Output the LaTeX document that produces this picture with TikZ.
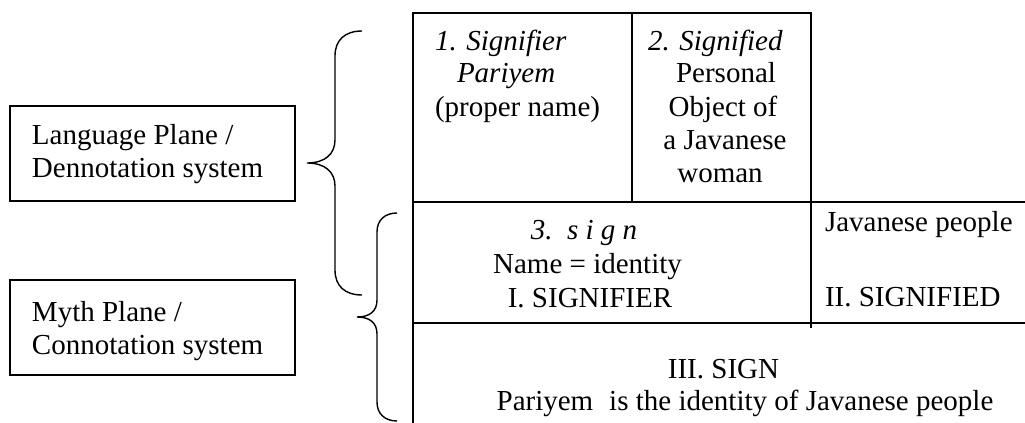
\documentclass[tikz,border=0pt]{standalone}
\usepackage{fontspec}
\setmainfont{Liberation Serif}
\begin{document}
\begin{tikzpicture}[x=0.5pt,y=-0.5pt,
  txt/.style={font=\fontsize{14.5}{17}\selectfont, inner sep=0pt, outer sep=0pt},
  planebox/.style={draw, line width=0.9pt, minimum width=142.5pt, minimum height=47.5pt, inner sep=0pt},
  rule/.style={line width=0.85pt},
  bracket/.style={line width=0.7pt}]
\useasboundingbox (0,0) rectangle (1025,423);

% left boxes
\node[planebox] (langbox) at (152.5,153.5) {};
\node[planebox] (mythbox) at (152.5,327.5) {};
\node[txt, anchor=base west] (lang1) at (32,144) {Language Plane /};
\node[txt, anchor=base west] (lang2) at (32,177) {Dennotation system};
\node[txt, anchor=base west] (myth1) at (32,321) {Myth Plane /};
\node[txt, anchor=base west] (myth2) at (32,354) {Connotation system};

% braces
\draw[bracket] (362,31) .. controls (345,31) and (335,40) .. (335,56) -- (335,140)
  .. controls (335,154) and (325,163) .. (307,163)
  .. controls (325,163) and (335,172) .. (335,186) -- (335,270)
  .. controls (335,286) and (345,295) .. (362,295);
\draw[bracket] (397,213) .. controls (385,213) and (377,220) .. (377,232) -- (377,300)
  .. controls (377,311) and (370,317) .. (357,317)
  .. controls (370,317) and (377,323) .. (377,334) -- (377,402)
  .. controls (377,414) and (385,421) .. (397,421);

% table grid
\coordinate (tl) at (413,13);
\coordinate (tm) at (632,13);
\coordinate (tr) at (811,13);
\draw[rule] (413,423) -- (tl) -- (tr) -- (811,328);
\draw[rule] (tm) -- (632,202);
\draw[rule] (413,202) -- (1025,202);
\draw[rule] (413,323) -- (1025,323);

% cell 1
\node[txt, anchor=base west] (c1a) at (435,50) {\textit{1. Signifier}};
\node[txt, anchor=base west] (c1b) at (457,83) {\textit{Pariyem}};
\node[txt, anchor=base west] (c1c) at (435,116) {(proper name)};
% cell 2
\node[txt, anchor=base west] (c2a) at (648,50) {\textit{2. Signified}};
\node[txt, anchor=base] (c2b) at (726,83) {Personal};
\node[txt, anchor=base] (c2c) at (723,116) {Object of};
\node[txt, anchor=base] (c2d) at (725,149) {a Javanese};
\node[txt, anchor=base] (c2e) at (720,182) {woman};
% cell 3
\node[txt, anchor=base] (c3a) at (584,239) {\textit{3.\ \ s i g n}};
\node[txt, anchor=base] (c3b) at (587.5,273) {Name = identity};
\node[txt, anchor=base] (c3c) at (590,307) {I. SIGNIFIER};
% right cell
\node[txt, anchor=base west] (c4a) at (825,231) {Javanese people};
\node[txt, anchor=base west] (c4b) at (825,306) {II. SIGNIFIED};
% bottom
\node[txt, anchor=base] (c5a) at (723.5,378) {III. SIGN};
\node[txt, anchor=base] (c5b) at (745,410) {Pariyem\hspace{0.55em}is the identity of Javanese people};
\end{tikzpicture}
\end{document}
